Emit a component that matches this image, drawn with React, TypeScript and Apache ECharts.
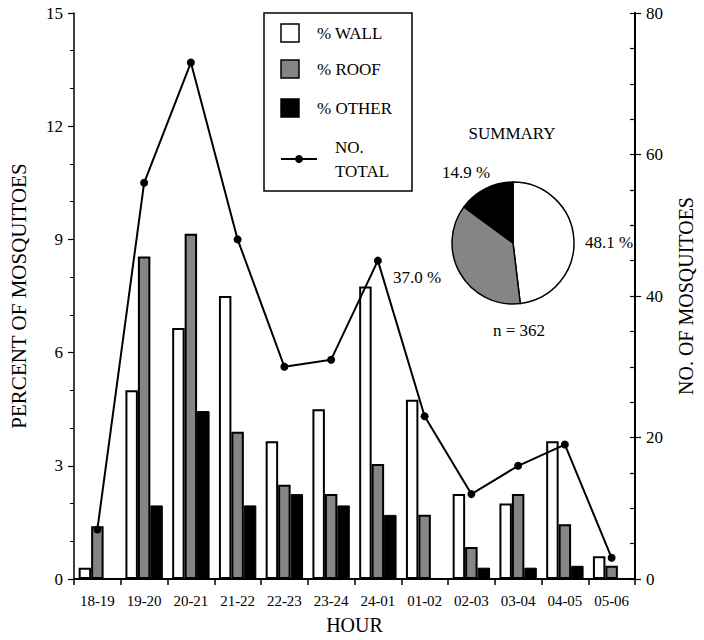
import React, { useEffect, useRef } from "react";
import * as echarts from "echarts";

const hours = ["18-19", "19-20", "20-21", "21-22", "22-23", "23-24", "24-01", "01-02", "02-03", "03-04", "04-05", "05-06"];
const wallPct = [0.3, 5.0, 6.65, 7.5, 3.65, 4.5, 7.75, 4.75, 2.25, 2.0, 3.65, 0.6];
const roofPct = [1.4, 8.55, 9.15, 3.9, 2.5, 2.25, 3.05, 1.7, 0.85, 2.25, 1.45, 0.35];
const otherPct = [0, 1.95, 4.45, 1.95, 2.25, 1.95, 1.7, 0, 0.3, 0.3, 0.35, 0];
const totalCount = [7, 56, 73, 48, 30, 31, 45, 23, 12, 16, 19, 3];
const pieNames = ["% WALL", "% ROOF", "% OTHER"];
const pieValues = [48.1, 37.0, 14.9];
const sampleN = 362;

const FONT = "'Liberation Serif', 'Times New Roman', serif";
const GRAY = "#858585";

export default function App() {
  const ref = useRef<HTMLDivElement>(null);
  useEffect(() => {
    if (!ref.current) return;
    const chart = echarts.init(ref.current, null, { renderer: "svg" });
    const txt = (x: number, y: number, text: string, align = "left", size = 14) => ({
      type: "text",
      x,
      y,
      silent: true,
      style: { text, fill: "#000", fontFamily: FONT, fontSize: size, align, verticalAlign: "middle" },
    });
    const pct = (v: number) => v.toFixed(1) + " %";
    chart.setOption({
      animation: false,
      backgroundColor: "#fff",
      textStyle: { fontFamily: FONT, color: "#000" },
      grid: { left: 65, right: 52, top: 13, bottom: 58 },
      xAxis: {
        type: "category",
        data: hours,
        boundaryGap: true,
        name: "HOUR",
        nameLocation: "middle",
        nameGap: 36,
        nameTextStyle: { fontSize: 20, fontFamily: FONT, color: "#000" },
        axisLine: { lineStyle: { color: "#000", width: 2 } },
        axisTick: { show: true, interval: 0, length: 6, lineStyle: { color: "#000", width: 1.5 } },
        axisLabel: { interval: 0, hideOverlap: false, fontSize: 15, fontFamily: FONT, color: "#000", margin: 14 },
        splitLine: { show: false },
      },
      yAxis: [
        {
          type: "value",
          min: 0,
          max: 15,
          interval: 3,
          position: "left",
          name: "PERCENT OF MOSQUITOES",
          nameLocation: "middle",
          nameGap: 45,
          nameRotate: 90,
          nameTextStyle: { fontSize: 21, fontFamily: FONT, color: "#000" },
          axisLine: { show: true, lineStyle: { color: "#000", width: 1.5 } },
          axisTick: { show: true, length: 6, lineStyle: { color: "#000", width: 1.2 } },
          minorTick: { show: true, splitNumber: 3, length: 4, lineStyle: { color: "#000", width: 1 } },
          axisLabel: { fontSize: 17, fontFamily: FONT, color: "#000", margin: 11 },
          splitLine: { show: false },
        },
        {
          type: "value",
          min: 0,
          max: 80,
          interval: 20,
          position: "right",
          name: "NO. OF MOSQUITOES",
          nameLocation: "middle",
          nameGap: 41,
          nameRotate: 90,
          nameTextStyle: { fontSize: 20, fontFamily: FONT, color: "#000" },
          axisLine: { show: true, lineStyle: { color: "#000", width: 2 } },
          axisTick: { show: true, length: 6, lineStyle: { color: "#000", width: 1.2 } },
          axisLabel: { fontSize: 17, fontFamily: FONT, color: "#000", margin: 11 },
          splitLine: { show: false },
        },
        {
          type: "value",
          min: 0,
          max: 80,
          interval: 5,
          position: "right",
          axisLine: { show: true, lineStyle: { color: "#000", width: 2 } },
          axisTick: { show: true, inside: true, length: 5, lineStyle: { color: "#000", width: 1.2 } },
          axisLabel: { show: false },
          splitLine: { show: false },
        },
      ],
      series: [
        {
          name: "% WALL",
          type: "bar",
          data: wallPct,
          barGap: "0%",
          barCategoryGap: "20%",
          silent: true,
          itemStyle: { color: "#fff", borderColor: "#000", borderWidth: 2 },
        },
        {
          name: "% ROOF",
          type: "bar",
          data: roofPct,
          silent: true,
          itemStyle: { color: GRAY, borderColor: "#000", borderWidth: 2 },
        },
        {
          name: "% OTHER",
          type: "bar",
          data: otherPct,
          silent: true,
          itemStyle: { color: "#000", borderColor: "#000", borderWidth: 1 },
        },
        {
          name: "NO. TOTAL",
          type: "line",
          yAxisIndex: 1,
          data: totalCount,
          silent: true,
          symbol: "circle",
          symbolSize: 8,
          lineStyle: { color: "#000", width: 2 },
          itemStyle: { color: "#000" },
          z: 5,
        },
        {
          type: "pie",
          center: [513, 243],
          radius: 61,
          startAngle: 90,
          clockwise: true,
          silent: true,
          label: { show: false },
          labelLine: { show: false },
          itemStyle: { borderColor: "#000", borderWidth: 1.5 },
          data: pieNames.map((n, i) => ({
            name: n,
            value: pieValues[i],
            itemStyle: { color: ["#fff", GRAY, "#000"][i] },
          })),
        },
      ],
      graphic: [
        {
          type: "rect",
          shape: { x: 264, y: 13, width: 148, height: 178 },
          style: { fill: "#fff", stroke: "#000", lineWidth: 1.5 },
          silent: true,
          z: 10,
        },
        { type: "rect", shape: { x: 281, y: 24, width: 18, height: 18 }, style: { fill: "#fff", stroke: "#000", lineWidth: 1.5 }, z: 11, silent: true },
        { type: "rect", shape: { x: 281, y: 60, width: 18, height: 18 }, style: { fill: GRAY, stroke: "#000", lineWidth: 1.5 }, z: 11, silent: true },
        { type: "rect", shape: { x: 281, y: 99, width: 18, height: 18 }, style: { fill: "#000", stroke: "#000", lineWidth: 1.5 }, z: 11, silent: true },
        { type: "line", shape: { x1: 281, y1: 159, x2: 317, y2: 159 }, style: { stroke: "#000", lineWidth: 2 }, z: 11, silent: true },
        { type: "circle", shape: { cx: 299, cy: 159, r: 4 }, style: { fill: "#000" }, z: 11, silent: true },
        { ...txt(317, 33, pieNames[0], "left", 17), z: 11 },
        { ...txt(317, 69, pieNames[1], "left", 17), z: 11 },
        { ...txt(317, 108, pieNames[2], "left", 17), z: 11 },
        { ...txt(335, 147, "NO.", "left", 17), z: 11 },
        { ...txt(335, 171, "TOTAL", "left", 17), z: 11 },
        txt(512, 133, "SUMMARY", "center", 17),
        txt(585, 242, pct(pieValues[0]), "left", 17),
        txt(393, 277, pct(pieValues[1]), "left", 17),
        txt(442, 172, pct(pieValues[2]), "left", 17),
        txt(519, 330, "n = " + sampleN, "center", 17),
      ],
    });
    return () => chart.dispose();
  }, []);
  return <div ref={ref} style={{ width: 704, height: 640, position: "absolute", left: 0, top: 0 }} />;
}
